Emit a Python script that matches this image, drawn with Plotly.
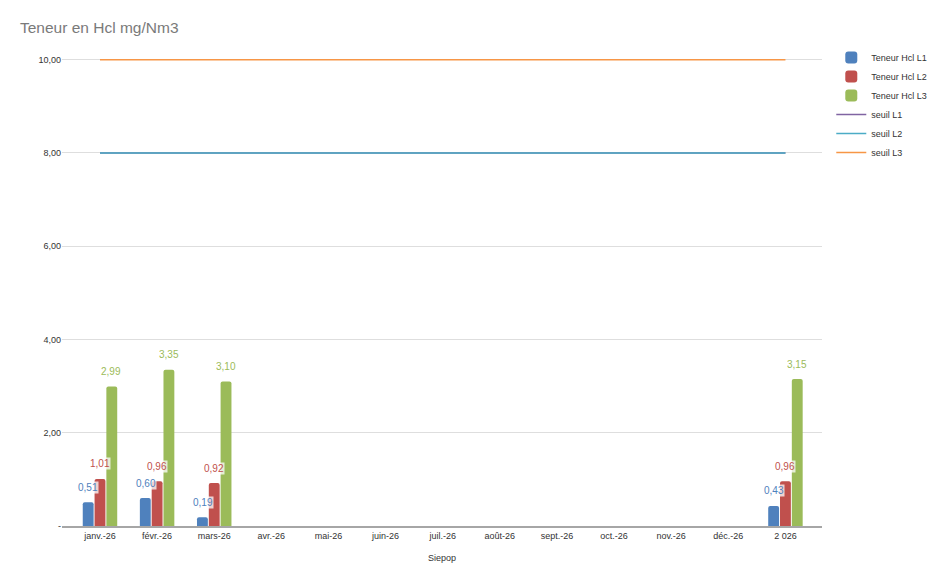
import plotly.graph_objects as go

mois = ["janv.-26", "févr.-26", "mars-26", "avr.-26", "mai-26", "juin-26", "juil.-26",
        "août-26", "sept.-26", "oct.-26", "nov.-26", "déc.-26", "2 026"]

hcl_l1 = [0.51, 0.60, 0.19, None, None, None, None, None, None, None, None, None, 0.43]
hcl_l2 = [1.01, 0.96, 0.92, None, None, None, None, None, None, None, None, None, 0.96]
hcl_l3 = [2.99, 3.35, 3.10, None, None, None, None, None, None, None, None, None, 3.15]

seuil_l1 = [8] * 13
seuil_l2 = [8] * 13
seuil_l3 = [10] * 13

y_ticks = [0, 2, 4, 6, 8, 10]
y_labels = ["-", "2,00", "4,00", "6,00", "8,00", "10,00"]

x = list(range(len(mois)))

fig = go.Figure()

bars = [
    ("Teneur Hcl L1", hcl_l1, "#4F81BD", -11.5),
    ("Teneur Hcl L2", hcl_l2, "#C0504D", 0),
    ("Teneur Hcl L3", hcl_l3, "#9BBB59", 11.5),
]
for name, vals, col, dx in bars:
    fig.add_trace(go.Bar(
        x=x, y=vals, name=name,
        marker=dict(color=col, line=dict(width=0)),
    ))
    # value labels sit a little above each bar
    for xi, v in zip(x, vals):
        if v is None:
            continue
        fig.add_annotation(
            x=xi, y=v, text=f"{v:.2f}".replace(".", ","),
            showarrow=False, xshift=dx, yshift=15, yanchor="middle",
            font=dict(color=col, size=10),
            bgcolor="rgba(255,255,255,0.75)", borderpad=0,
        )

lines = [
    ("seuil L1", seuil_l1, "#8064A2"),
    ("seuil L2", seuil_l2, "#4BACC6"),
    ("seuil L3", seuil_l3, "#F79646"),
]
for name, vals, col in lines:
    fig.add_trace(go.Scatter(
        x=x, y=vals, name=name, mode="lines",
        line=dict(color=col, width=1.5),
        cliponaxis=False,
    ))

# page body adds an 8px margin, so the figure is a bit smaller than the window
fig.update_layout(
    width=924, height=561,
    title=dict(text="Teneur en Hcl mg/Nm3", x=0.013, xanchor="left", y=0.965, yanchor="middle",
               font=dict(size=15.5, color="#7a7a7a")),
    font=dict(family="Liberation Sans, Arial, sans-serif", size=9, color="#333333"),
    separators=", ",
    plot_bgcolor="white", paper_bgcolor="white",
    margin=dict(l=54, r=110, t=47, b=43, autoexpand=False),
    barmode="group",
    bargap=0.38,
    bargroupgap=0.08,
    barcornerradius=2,
    showlegend=True,
    legend=dict(xref="container", yref="container", x=0.891, y=0.9376,
                xanchor="left", yanchor="top",
                font=dict(size=9, color="#333333"), itemwidth=30,
                tracegroupgap=0, traceorder="normal"),
    xaxis=dict(
        tickmode="array", tickvals=x, ticktext=mois,
        range=[-0.665, 12.64],
        showgrid=False, showline=True, linecolor="#a6a6a6", linewidth=1.5,
        ticks="", tickfont=dict(size=9, color="#333333"),
        title=dict(text="Siepop", font=dict(size=9, color="#333333"), standoff=15),
        zeroline=False,
    ),
    yaxis=dict(
        range=[0, 10.1],
        tickmode="array", tickvals=y_ticks, ticktext=y_labels,
        showgrid=True, gridcolor="#dedede", gridwidth=1,
        zeroline=False, ticks="", ticklen=0,
        tickfont=dict(size=9, color="#333333"),
    ),
)

fig.write_html("out.html")
